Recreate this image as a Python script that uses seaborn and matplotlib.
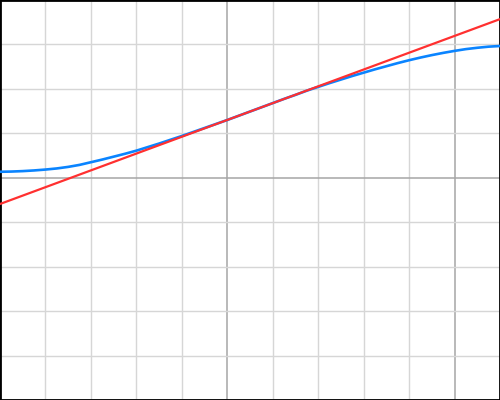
import matplotlib
matplotlib.use("Agg")
import matplotlib.pyplot as plt
import pandas as pd
import seaborn as sns
from matplotlib.ticker import MultipleLocator

# curve (every quarter unit)
curve_x = [-5, -4.75, -4.5, -4.25, -4, -3.75, -3.5, -3.25, -3, -2.75, -2.5, -2.25,
           -2, -1.75, -1.5, -1.25, -1, -0.75, -0.5, -0.25, 0, 0.25, 0.5, 0.75,
           1, 1.25, 1.5, 1.75, 2, 2.25, 2.5, 2.75, 3, 3.25, 3.5, 3.75,
           4, 4.25, 4.5, 4.75, 5, 5.25, 5.5, 5.75, 6]
curve_y = [0.135, 0.14, 0.15, 0.165, 0.185, 0.21, 0.245, 0.29, 0.35, 0.41, 0.475, 0.54,
           0.61, 0.69, 0.77, 0.855, 0.94, 1.03, 1.12, 1.21, 1.30, 1.395, 1.49, 1.585,
           1.68, 1.775, 1.865, 1.96, 2.045, 2.13, 2.21, 2.29, 2.365, 2.44, 2.51, 2.58,
           2.645, 2.705, 2.76, 2.81, 2.855, 2.895, 2.925, 2.95, 2.965]

# tangent line endpoints
tangent_x = [-5, 6]
tangent_y = [-0.59, 3.57]

curve = pd.DataFrame({"x": curve_x, "y": curve_y})
tangent = pd.DataFrame({"x": tangent_x, "y": tangent_y})

sns.set_style("white")
fig = plt.figure(figsize=(5, 4), dpi=100)
ax = fig.add_axes([0, 0, 1, 1])

sns.lineplot(data=curve, x="x", y="y", ax=ax, color="#0a84ff", lw=1.9, zorder=3)
sns.lineplot(data=tangent, x="x", y="y", ax=ax, color="#ff3030", lw=1.6, zorder=4)

ax.set_xlim(-5, 6)
ax.set_ylim(-5, 4)
ax.xaxis.set_major_locator(MultipleLocator(5))
ax.xaxis.set_minor_locator(MultipleLocator(1))
ax.yaxis.set_major_locator(MultipleLocator(5))
ax.yaxis.set_minor_locator(MultipleLocator(1))
ax.grid(which="minor", color="#d6d6d6", lw=1.0)
ax.grid(which="major", color="#a6a6a6", lw=1.1)
ax.set_axisbelow(True)
ax.tick_params(which="both", direction="in", labelbottom=False, labelleft=False,
               color="#222222", top=False, right=False)
ax.tick_params(which="major", length=4, width=1.2)
ax.tick_params(which="minor", length=2.5, width=0.9)
ax.set_xlabel("")
ax.set_ylabel("")
for s in ax.spines.values():
    s.set_color("black")
    s.set_linewidth(2)

fig.savefig("out.png", dpi=100)
